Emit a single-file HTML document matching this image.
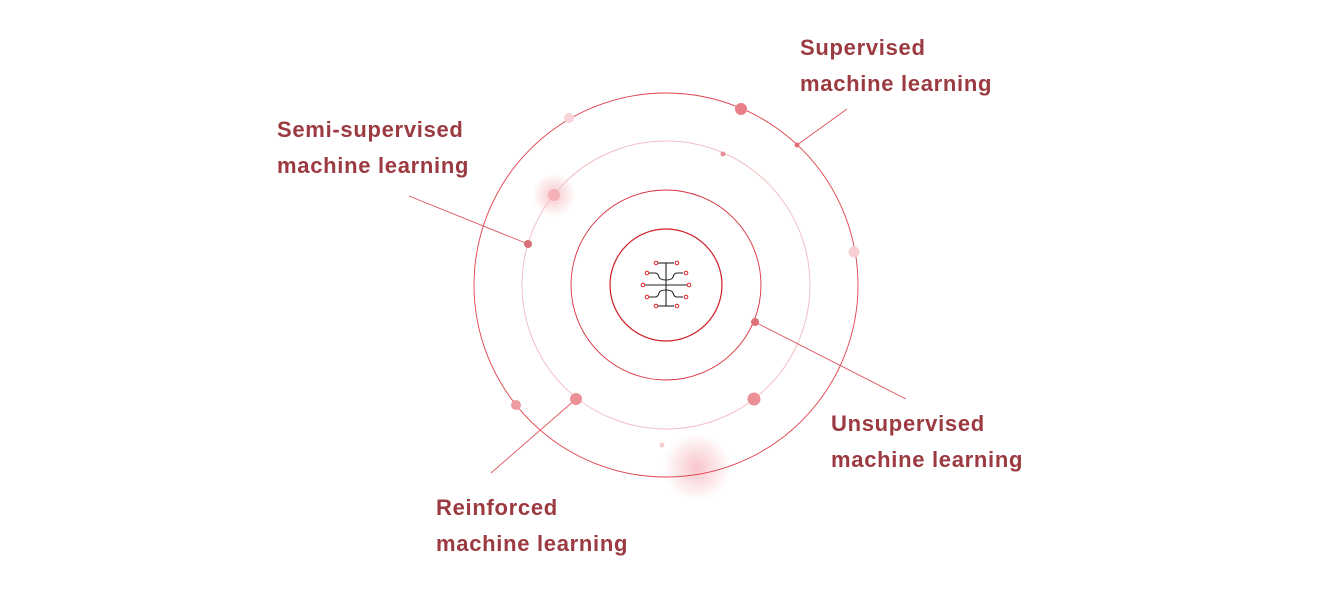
<!DOCTYPE html>
<html><head><meta charset="utf-8"><style>
html,body{margin:0;padding:0;background:#fff;}
svg{display:block;}
text{font-family:"Liberation Sans",sans-serif;font-weight:bold;font-size:22px;letter-spacing:0.7px;fill:#9b3a40;}
</style></head><body>
<svg width="1336" height="591" viewBox="0 0 1336 591" xmlns="http://www.w3.org/2000/svg">
<defs>
<radialGradient id="g"><stop offset="0" stop-color="#f3a0a8" stop-opacity="0.6"/><stop offset="1" stop-color="#f3a0a8" stop-opacity="0"/></radialGradient>
</defs>
<circle cx="697" cy="467" r="34" fill="url(#g)"/>
<circle cx="554" cy="195" r="22" fill="url(#g)"/>
<g fill="none">
<circle cx="666" cy="285" r="192" stroke="#e0414c" stroke-width="0.9"/>
<circle cx="666" cy="285" r="144" stroke="#f2c0c4" stroke-width="1"/>
<circle cx="666" cy="285" r="95" stroke="#d8303c" stroke-width="0.9"/>
<circle cx="666" cy="285" r="56" stroke="#d01e28" stroke-width="1.2"/>
</g>
<g stroke="#e0505a" stroke-width="0.9">
<line x1="797" y1="145" x2="847" y2="109"/>
<line x1="528" y1="244" x2="409" y2="196"/>
<line x1="755" y1="322" x2="906" y2="399"/>
<line x1="576" y1="399" x2="491" y2="473"/>
</g>
<g>
<circle cx="741" cy="109" r="6" fill="#e88088"/>
<circle cx="569" cy="118" r="5" fill="#f8d4d8"/>
<circle cx="797" cy="145" r="2.5" fill="#e07078"/>
<circle cx="723" cy="154" r="2.5" fill="#e8909a"/>
<circle cx="554" cy="195" r="6" fill="#f3b0b6"/>
<circle cx="528" cy="244" r="4" fill="#d87078"/>
<circle cx="854" cy="252" r="5.5" fill="#f8d0d4"/>
<circle cx="755" cy="322" r="4" fill="#e07078"/>
<circle cx="576" cy="399" r="6" fill="#ec9098"/>
<circle cx="754" cy="399" r="6.5" fill="#ec9098"/>
<circle cx="516" cy="405" r="5" fill="#ec9ca2"/>
<circle cx="662" cy="445" r="2.5" fill="#f8ccd0"/>
</g>
<g fill="none" stroke="#222" stroke-width="1.1">
<line x1="666" y1="263" x2="666" y2="306"/>
<line x1="645" y1="285" x2="687" y2="285"/>
<path d="M658 263 H674"/>
<path d="M658 306 H674"/>
<path d="M649 273 h6 q3 0 4 4 q1 3 7 3 q6 0 7 -3 q1 -4 4 -4 h6"/>
<path d="M649 297 h6 q3 0 4 -4 q1 -3 7 -3 q6 0 7 3 q1 4 4 4 h6"/>
</g>
<g fill="#fff" stroke="#e0202a" stroke-width="1">
<circle cx="656" cy="263" r="1.8"/><circle cx="677" cy="263" r="1.8"/>
<circle cx="647" cy="273" r="1.8"/><circle cx="686" cy="273" r="1.8"/>
<circle cx="643" cy="285" r="1.8"/><circle cx="689" cy="285" r="1.8"/>
<circle cx="647" cy="297" r="1.8"/><circle cx="686" cy="297" r="1.8"/>
<circle cx="656" cy="306" r="1.8"/><circle cx="677" cy="306" r="1.8"/>
</g>
<text x="800" y="55">Supervised</text>
<text x="800" y="91">machine learning</text>
<text x="277" y="137">Semi-supervised</text>
<text x="277" y="173">machine learning</text>
<text x="831" y="431">Unsupervised</text>
<text x="831" y="467">machine learning</text>
<text x="436" y="515">Reinforced</text>
<text x="436" y="551">machine learning</text>
</svg>
</body></html>
